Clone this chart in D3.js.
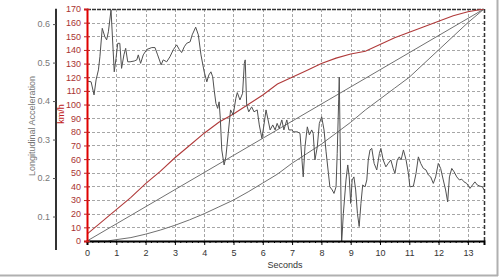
<!DOCTYPE html>
<html>
<head>
<meta charset="utf-8">
<script src="https://cdn.jsdelivr.net/npm/d3@7"></script>
<style>
  body { margin: 0; background: #fff; }
  text { font-family: "Liberation Sans", Arial, sans-serif; }
</style>
</head>
<body>
<div id="chart"></div>
<script>
var width = 500, height = 277;

// seconds / longitudinal acceleration (gray noisy trace)
var accTime = [0,0.14,0.24,0.31,0.39,0.44,0.52,0.61,0.67,0.73,0.82,0.93,0.99,1.05,1.12,1.18,1.26,1.32,1.39,1.47,
  1.61,1.70,1.75,1.83,1.92,2.04,2.21,2.32,2.41,2.53,2.60,2.72,2.83,2.95,3.06,3.15,3.23,3.32,3.40,3.52,
  3.59,3.71,3.80,3.89,4.00,4.09,4.16,4.23,4.29,4.34,4.40,4.46,4.51,4.55,4.60,4.68,4.74,4.82,4.90,4.99,
  5.08,5.13,5.22,5.31,5.37,5.40,5.45,5.52,5.62,5.70,5.81,5.88,5.97,6.04,6.11,6.17,6.25,6.34,6.42,6.49,
  6.56,6.65,6.72,6.82,6.89,6.99,7.06,7.18,7.27,7.33,7.38,7.44,7.52,7.59,7.67,7.72,7.78,7.86,7.93,8.01,
  8.09,8.16,8.24,8.29,8.37,8.43,8.50,8.54,8.59,8.61,8.69,8.75,8.84,8.90,8.95,9.00,9.05,9.11,9.17,9.23,
  9.29,9.35,9.41,9.49,9.55,9.60,9.66,9.72,9.80,9.89,9.98,10.03,10.11,10.20,10.28,10.37,10.45,10.51,10.59,10.66,
  10.72,10.80,10.89,10.97,11.02,11.14,11.23,11.31,11.39,11.48,11.57,11.65,11.73,11.82,11.90,11.99,12.07,12.16,12.24,12.31,
  12.37,12.45,12.53,12.62,12.71,12.79,12.87,12.96,13.07,13.16,13.24,13.32,13.41,13.50,13.55];
var accValue = [0.452,0.450,0.416,0.455,0.481,0.515,0.589,0.567,0.559,0.580,0.637,0.476,0.511,0.550,0.550,0.485,0.520,0.537,0.502,0.502,
  0.504,0.507,0.520,0.498,0.520,0.534,0.539,0.539,0.520,0.494,0.507,0.502,0.515,0.534,0.546,0.534,0.526,0.541,0.550,0.554,
  0.572,0.592,0.572,0.520,0.476,0.450,0.468,0.476,0.463,0.429,0.394,0.381,0.398,0.355,0.273,0.234,0.255,0.316,0.377,0.364,
  0.407,0.422,0.403,0.420,0.498,0.507,0.390,0.372,0.385,0.372,0.377,0.338,0.303,0.338,0.377,0.355,0.325,0.338,0.325,0.342,
  0.329,0.351,0.325,0.351,0.325,0.325,0.320,0.320,0.316,0.255,0.203,0.281,0.333,0.312,0.325,0.316,0.247,0.281,0.342,0.359,
  0.325,0.268,0.212,0.177,0.169,0.160,0.177,0.264,0.403,0.462,0.030,0.108,0.195,0.234,0.203,0.134,0.195,0.203,0.169,0.108,
  0.074,0.134,0.182,0.177,0.195,0.247,0.273,0.277,0.238,0.221,0.264,0.277,0.247,0.229,0.238,0.247,0.225,0.212,0.247,0.255,
  0.247,0.273,0.247,0.212,0.177,0.179,0.212,0.255,0.238,0.225,0.221,0.208,0.203,0.186,0.203,0.238,0.225,0.195,0.169,0.138,
  0.203,0.225,0.216,0.203,0.195,0.197,0.190,0.186,0.173,0.182,0.190,0.182,0.179,0.177,0.169];

// km/h traces
var speedTime = [0,0.5,1,1.5,2,2.5,3,3.5,4,4.5,5,5.5,6,6.5,7,7.5,8,8.5,9,9.5,10,10.5,11,11.5,12,12.5,13,13.55];
var speedValue = [5,14,23,32,42,51,61,70,79,87,93,100,107,115,120,125,130,134,137,139,144,149,153,157,161,165,168,170];

var lowTime = [0,0.7,1,1.5,2,2.5,3,3.5,4,4.5,5,5.5,6,6.5,7,7.5,8,8.5,9,9.5,10,10.5,11,11.5,12,12.5,13,13.55];
var lowValue = [0,0,1,2.5,5,8,11.5,15.5,20,25,30,36,42.5,49,57,64,71,79,87,96,104,112,120,130,140,150,160,170];

var midTime = [0,13.55];
var midValue = [0,170];

var secTicks = d3.range(0, 14);
var speedTicks = d3.range(0, 171, 10);
var accTicks = [0.1, 0.2, 0.3, 0.4, 0.5, 0.6];

var plotL = 87, plotR = 484, plotT = 9, plotB = 241;

var x = d3.scaleLinear().domain([0, 13.55]).range([plotL, plotR]);
var ySpeed = d3.scaleLinear().domain([0, 170]).range([plotB, plotT]);
var yAcc = d3.scaleLinear().domain([0, 0.64]).range([255, 8.7]);

var svg = d3.select("#chart")
            .append("svg")
            .attr("width", width)
            .attr("height", height);

// outer frame (bottom / right)
svg.append("line").attr("x1", 0).attr("x2", 498).attr("y1", 275.5).attr("y2", 275.5)
   .attr("stroke", "#b0b0b0").attr("stroke-width", 2);
svg.append("line").attr("x1", 497.5).attr("x2", 497.5).attr("y1", 0).attr("y2", 276)
   .attr("stroke", "#b0b0b0").attr("stroke-width", 2);

svg.append("clipPath").attr("id", "plot")
   .append("rect").attr("x", plotL).attr("y", plotT).attr("width", plotR - plotL).attr("height", plotB - plotT);

// grid
var grid = svg.append("g").attr("stroke", "#a6a6a6").attr("stroke-dasharray", "3,2").attr("stroke-width", 1);
grid.selectAll(".gx").data(secTicks.slice(1))
    .enter().append("line")
    .attr("x1", function(d) { return Math.round(x(d)) + 0.5; })
    .attr("x2", function(d) { return Math.round(x(d)) + 0.5; })
    .attr("y1", plotT).attr("y2", plotB);
grid.selectAll(".gy").data(speedTicks.slice(1, -1))
    .enter().append("line")
    .attr("x1", plotL).attr("x2", plotR)
    .attr("y1", function(d) { return Math.round(ySpeed(d)) + 0.5; })
    .attr("y2", function(d) { return Math.round(ySpeed(d)) + 0.5; });

// top / right border
svg.append("line").attr("x1", plotL).attr("x2", plotR).attr("y1", plotT + 0.5).attr("y2", plotT + 0.5)
   .attr("stroke", "#333").attr("stroke-dasharray", "4,1").attr("stroke-width", 1.5);
svg.append("line").attr("x1", plotR + 0.5).attr("x2", plotR + 0.5).attr("y1", plotT).attr("y2", plotB)
   .attr("stroke", "#333").attr("stroke-dasharray", "4,2").attr("stroke-width", 1.5);

var plot = svg.append("g").attr("clip-path", "url(#plot)");

var speedLine = d3.line()
    .x(function(d) { return x(d[0]); })
    .y(function(d) { return ySpeed(d[1]); });
var accLine = d3.line()
    .x(function(d) { return x(d[0]); })
    .y(function(d) { return yAcc(d[1]); });

plot.append("path").datum(d3.zip(midTime, midValue))
    .attr("d", speedLine).attr("fill", "none").attr("stroke", "#707070").attr("stroke-width", 1);
plot.append("path").datum(d3.zip(lowTime, lowValue))
    .attr("d", speedLine).attr("fill", "none").attr("stroke", "#707070").attr("stroke-width", 1);
plot.append("path").datum(d3.zip(speedTime, speedValue))
    .attr("d", speedLine).attr("fill", "none").attr("stroke", "#b03a3a").attr("stroke-width", 1.1);
plot.append("path").datum(d3.zip(accTime, accValue))
    .attr("d", accLine).attr("fill", "none").attr("stroke", "#505050").attr("stroke-width", 1);

// x axis
var xAxis = svg.append("g").attr("transform", "translate(0," + plotB + ")")
    .call(d3.axisBottom(x).tickValues(secTicks).tickSize(4).tickFormat(d3.format("d")));
xAxis.select(".domain").attr("stroke", "#000").attr("stroke-width", 2);
xAxis.selectAll("text").attr("font-size", 9).attr("fill", "#333").attr("dy", "0.9em");
svg.append("g").attr("transform", "translate(0," + plotB + ")")
   .selectAll("line").data(d3.range(0, 13.55, 0.2))
   .enter().append("line")
   .attr("x1", function(d) { return x(d); }).attr("x2", function(d) { return x(d); })
   .attr("y1", 0).attr("y2", 2).attr("stroke", "#000");

// speed axis
var sAxis = svg.append("g").attr("transform", "translate(" + plotL + ",0)")
    .call(d3.axisLeft(ySpeed).tickValues(speedTicks).tickSize(3).tickPadding(3));
sAxis.select(".domain").attr("stroke", "#e00000").attr("stroke-width", 2);
sAxis.selectAll(".tick line").attr("x2", 3).attr("x1", -3).attr("stroke", "#c02020");
sAxis.selectAll("text").attr("font-size", 9).attr("fill", "#a83232");

// acceleration axis
var aAxis = svg.append("g").attr("transform", "translate(56,0)")
    .call(d3.axisLeft(yAcc).tickValues(accTicks).tickSize(3).tickPadding(3).tickSizeOuter(0)
      .tickFormat(d3.format(".1f")));
aAxis.select(".domain").attr("d", "M0," + yAcc(0.64) + "V250").attr("stroke", "#333").attr("stroke-width", 2);
aAxis.selectAll(".tick line").attr("stroke", "#555");
aAxis.selectAll("text").attr("font-size", 9).attr("fill", "#777");

// titles
svg.append("text").attr("transform", "translate(35,126) rotate(-90)")
   .attr("text-anchor", "middle").attr("font-size", 9).attr("fill", "#777")
   .text("Longitudinal Acceleration");
svg.append("text").attr("transform", "translate(64,114) rotate(-90)")
   .attr("text-anchor", "middle").attr("font-size", 9).attr("fill", "#c02020")
   .text("km/h");
svg.append("text").attr("x", 285).attr("y", 268)
   .attr("text-anchor", "middle").attr("font-size", 9).attr("fill", "#333")
   .text("Seconds");
</script>
</body>
</html>
